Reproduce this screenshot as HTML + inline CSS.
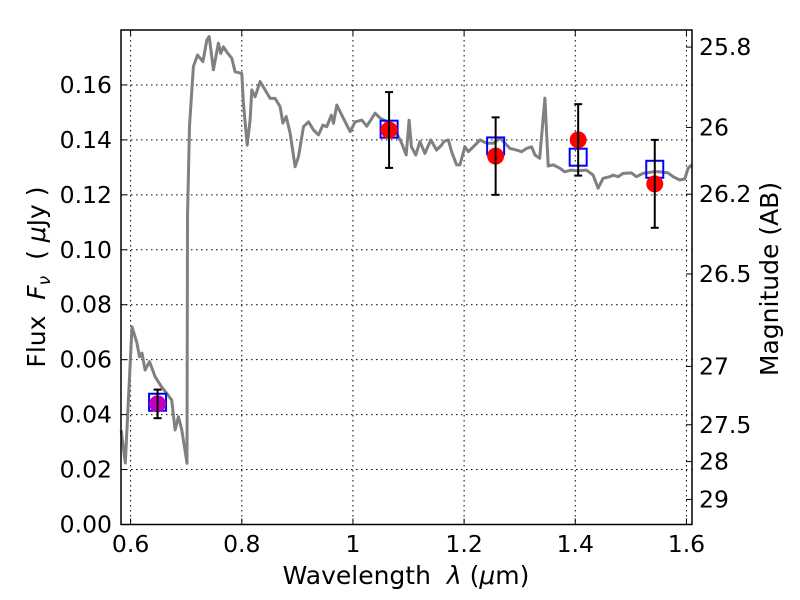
<!DOCTYPE html>
<html><head><meta charset="utf-8"><style>
html,body{margin:0;padding:0;background:#fff;}
svg{display:block;font-family:"DejaVu Sans","Liberation Sans",sans-serif;}
</style></head><body>
<svg id="chart" width="800" height="600" viewBox="0 0 800 600" xmlns="http://www.w3.org/2000/svg">
<rect width="800" height="600" fill="#fff"/>
<g id="grid"></g>
<g id="spec"></g>
<g id="marks"></g>
<g id="axes"></g>
<text x="406" y="584" font-size="25" text-anchor="middle">Wavelength&#160;&#160;<tspan font-style="italic">λ</tspan> (<tspan font-style="italic">μ</tspan>m)</text>
<text transform="translate(45,277) rotate(-90)" font-size="25" text-anchor="middle">Flux&#160;&#160;<tspan font-style="italic">F</tspan><tspan font-style="italic" font-size="17" dy="5">ν</tspan><tspan dy="-5">&#160;&#160;(&#160;</tspan><tspan font-style="italic">μ</tspan>Jy )</text>
<text transform="translate(778,279) rotate(-90)" font-size="25" text-anchor="middle">Magnitude (AB)</text>
</svg>
<script>
const specWave = [0.583,0.5905,0.597,0.6025,0.6115,0.616,0.6205,0.626,0.634,0.644,0.656,0.665,0.674,0.680,0.686,0.692,0.7014,0.7024,0.706,0.713,0.7204,0.730,0.7373,0.7414,0.749,0.758,0.762,0.767,0.773,0.782,0.788,0.800,0.803,0.8097,0.815,0.818,0.824,0.833,0.842,0.851,0.860,0.869,0.874,0.880,0.887,0.896,0.902,0.911,0.920,0.929,0.938,0.946,0.953,0.961,0.965,0.971,0.980,0.995,1.004,1.016,1.025,1.0398,1.049,1.061,1.0757,1.0877,1.0959,1.101,1.1052,1.113,1.1205,1.1295,1.14,1.1505,1.1595,1.1637,1.1715,1.1775,1.1865,1.1925,1.2015,1.2075,1.2165,1.2285,1.2405,1.2525,1.2645,1.2735,1.2825,1.2945,1.3035,1.3125,1.3215,1.3275,1.336,1.3453,1.3513,1.3603,1.3723,1.381,1.393,1.402,1.420,1.432,1.4411,1.4501,1.4621,1.4681,1.4771,1.486,1.501,1.510,1.522,1.540,1.552,1.567,1.576,1.588,1.597,1.603,1.610];
const specFlux = [0.0343,0.0224,0.049,0.072,0.066,0.061,0.0624,0.0562,0.0593,0.0538,0.050,0.0478,0.0453,0.0344,0.0392,0.0344,0.0223,0.112,0.145,0.1667,0.1709,0.1685,0.1764,0.1776,0.1655,0.1752,0.1715,0.1739,0.172,0.1697,0.1648,0.1642,0.1534,0.1381,0.1472,0.1582,0.1557,0.1612,0.1582,0.1551,0.1551,0.1521,0.1461,0.1485,0.1425,0.1302,0.1339,0.1448,0.1466,0.1436,0.1418,0.1454,0.1448,0.149,0.146,0.1527,0.149,0.143,0.1466,0.1472,0.145,0.1497,0.1479,0.1466,0.1436,0.1388,0.1345,0.1472,0.1375,0.1345,0.1394,0.1351,0.14,0.1363,0.1381,0.1394,0.14,0.1357,0.1309,0.1309,0.1375,0.1357,0.1375,0.14,0.1388,0.1388,0.1406,0.1388,0.1369,0.1363,0.1357,0.1369,0.1375,0.1345,0.1333,0.1552,0.1305,0.1309,0.1297,0.1284,0.129,0.1288,0.129,0.1272,0.1224,0.126,0.1266,0.1272,0.1266,0.1278,0.128,0.1266,0.1278,0.1284,0.1284,0.128,0.1266,0.1254,0.1258,0.1297,0.131];
const photWave = [0.6485,1.065,1.2567,1.4052,1.543];
const photFlux = [0.0439,0.1436,0.1341,0.140,0.124];
const photErr = [0.0052,0.0138,0.0141,0.013,0.016];
const modelFlux = [0.0445,0.1439,0.1378,0.1337,0.1293];
const xTicks = [0.6,0.8,1.0,1.2,1.4,1.6];
const xTickLabels = ["0.6","0.8","1","1.2","1.4","1.6"];
const yTicks = [0,0.02,0.04,0.06,0.08,0.10,0.12,0.14,0.16];
const yTickLabels = ["0.00","0.02","0.04","0.06","0.08","0.10","0.12","0.14","0.16"];
const magTicks = [25.8,26,26.2,26.5,27,27.5,28,29];
const magTickLabels = ["25.8","26","26.2","26.5","27","27.5","28","29"];

const NS="http://www.w3.org/2000/svg";
const L=121,R=692,T=30,B=524.5;
const XMIN=0.5827,XMAX=1.610,YMIN=0,YMAX=0.18;
function sx(v){return L+(v-XMIN)/(XMAX-XMIN)*(R-L);}
function sy(v){return B-(v-YMIN)/(YMAX-YMIN)*(B-T);}
function magToFlux(m){return Math.pow(10,(23.9-m)/2.5);}
function mk(tag,attrs,parent){const e=document.createElementNS(NS,tag);for(const k in attrs)e.setAttribute(k,attrs[k]);parent.appendChild(e);return e;}
const grid=document.getElementById('grid'),spec=document.getElementById('spec'),marks=document.getElementById('marks'),axes=document.getElementById('axes');

xTicks.forEach((v,i)=>{
  const x=sx(v);
  const g=mk('line',{x1:x,x2:x,y1:T,y2:B,stroke:'#000','stroke-width':1,'stroke-dasharray':'1.5,3.5'},grid);
  
  
  mk('line',{x1:x,x2:x,y1:B,y2:B-6,stroke:'#000','stroke-width':1},axes);
  mk('line',{x1:x,x2:x,y1:T,y2:T+6,stroke:'#000','stroke-width':1},axes);
  const t=mk('text',{x:x,y:552,'font-size':23.5,'text-anchor':'middle'},axes);
  t.textContent=xTickLabels[i];
  
  
});
yTicks.forEach((v,i)=>{
  const y=sy(v);
  const g=mk('line',{x1:L,x2:R,y1:y,y2:y,stroke:'#000','stroke-width':1,'stroke-dasharray':'1.5,3.5'},grid);
  
  
  mk('line',{x1:L,x2:L+6,y1:y,y2:y,stroke:'#000','stroke-width':1},axes);
  const t=mk('text',{x:112,y:y+8,'font-size':23.5,'text-anchor':'end'},axes);
  t.textContent=yTickLabels[i];
  
  
});
magTicks.forEach((m,i)=>{
  const y=sy(magToFlux(m));
  mk('line',{x1:R,x2:R-6,y1:y,y2:y,stroke:'#000','stroke-width':1},axes);
  const t=mk('text',{x:699,y:y+8,'font-size':23.5,'text-anchor':'start'},axes);
  t.textContent=magTickLabels[i];
  
  
});
const frame=mk('rect',{x:L,y:T,width:R-L,height:B-T,fill:'none',stroke:'#000','stroke-width':1.5},axes);



let d='';
specWave.forEach((w,i)=>{d+=(i?'L':'M')+sx(w).toFixed(1)+','+sy(specFlux[i]).toFixed(1);});
const line=mk('path',{d:d,fill:'none',stroke:'#808080','stroke-width':3,'stroke-linejoin':'round'},spec);



photWave.forEach((w,i)=>{
  const x=sx(w);
  const sq=mk('rect',{x:x-8.5,y:sy(modelFlux[i])-8.5,width:17,height:17,fill:'none',stroke:'#0000ff','stroke-width':2},marks);
  
  
  const c=mk('circle',{cx:x,cy:sy(photFlux[i]),r:8.5,fill:i===0?'#bf00bf':'#ff0000'},marks);
  
  
  const y1=sy(photFlux[i]+photErr[i]),y2=sy(photFlux[i]-photErr[i]);
  const eb=mk('g',{stroke:'#000','stroke-width':2},marks);
  
  
  mk('line',{x1:x,x2:x,y1:y1,y2:y2},eb);
  mk('line',{x1:x-4,x2:x+4,y1:y1,y2:y1},eb);
  mk('line',{x1:x-4,x2:x+4,y1:y2,y2:y2},eb);
});
</script>
</body></html>
